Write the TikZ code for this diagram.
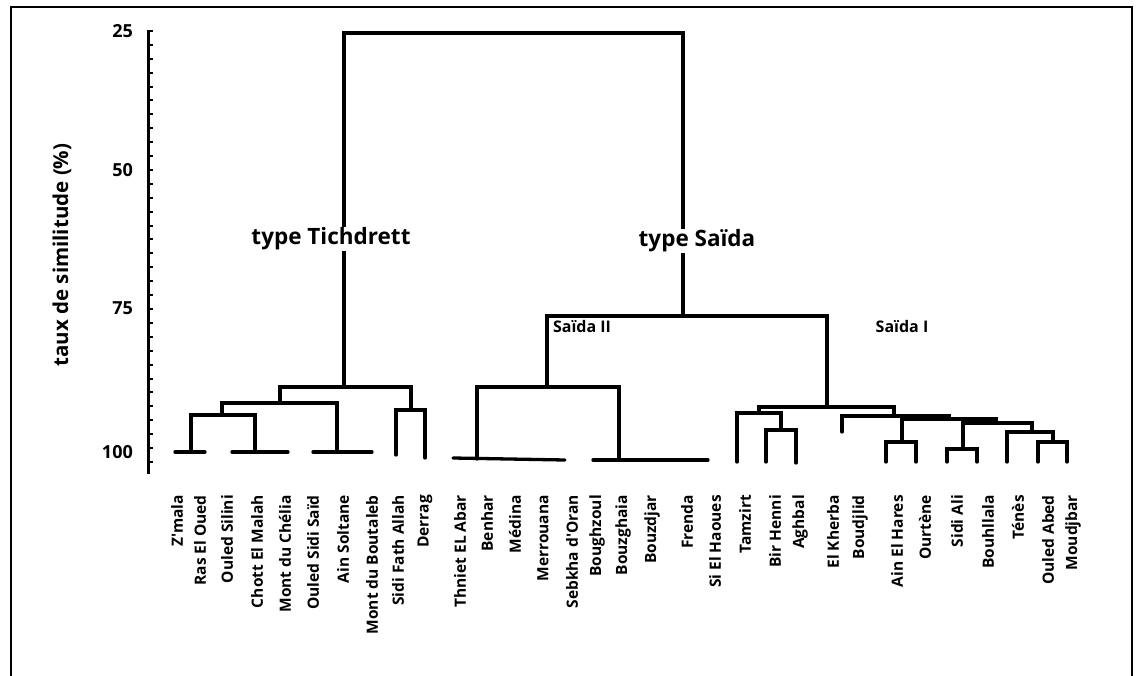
\documentclass[tikz,border=0pt]{standalone}
\usepackage{fontspec}
\setsansfont{Open Sans}
\newfontfamily\heavyfont{Open Sans}
\usepackage{tikz}
\usetikzlibrary{positioning}

\begin{document}
\begin{tikzpicture}[
  x=1pt, y=-1pt,
  font=\heavyfont\bfseries,
  leaf/.style={rotate=90, anchor=east, inner sep=0pt, font=\heavyfont\bfseries\fontsize{15.5}{15.5}\selectfont},
  grp/.style={fill=white, inner sep=1pt, font=\heavyfont\bfseries\fontsize{22.5}{22.5}\selectfont},
  sub/.style={inner sep=0pt, font=\heavyfont\bfseries\fontsize{16}{16}\selectfont},
  tick/.style={anchor=east, inner sep=0pt, font=\heavyfont\bfseries\fontsize{18}{18}\selectfont},
  br/.style={line width=3.3pt, line cap=round}
]
\useasboundingbox (0,0) rectangle (1139,676);

% Frame
\draw[line width=2.8pt] (11,676) -- (11,7) -- (1132,7) -- (1132,676);

% Axis
\draw[line width=3pt] (148,30) -- (148,474);
\foreach \v in {0,...,31}
  \draw[line width=2pt] (148,31+\v*13.9) -- ++(5,0);
\node[tick] (t25) at (133,31) {25};
\node[tick] (t50) at (133,170) {50};
\node[tick] (t75) at (133,308) {75};
\node[tick] (t100) at (133,452) {100};
\node[rotate=90, font=\heavyfont\bfseries\fontsize{20.5}{20.5}\selectfont] (ylab) at (62,255) {taux de similitude (\%)};

% Leaves
\foreach \x/\name [count=\i] in {177/Z'mala, 200/Ras El Oued, 227/Ouled Silini,
    257/Chott El Malah, 285/Mont du Chélia, 313/Ouled Sidi Saïd, 343/Ain Soltane,
    372/Mont du Boutaleb, 398/Sidi Fath Allah, 425/Derrag,
    460/Thniet EL Abar, 487/Benhar, 515/Médina, 543/Merrouana, 572/Sebkha d'Oran,
    597/Boughzoul, 623/Bouzghaia, 652/Bouzdjar, 687/Frenda, 715/Si El Haoues,
    745/Tamzirt, 775/Bir Henni, 800/Aghbal, 833/El Kherba, 860/Boudjlid,
    897/Ain El Hares, 925/Ourtène, 957/Sidi Ali, 988/Bouhllala, 1018/Ténès,
    1048/Ouled Abed, 1073/Moudjbar}
  \node[leaf] (l\i) at (\x,495) {\name};

% Root
\draw[br] (344,387) -- (344,33) -- (683,33) -- (683,316);

% type Tichdrett
\draw[br] (280,403) -- (280,387) -- (411,387) -- (411,410);
\draw[br] (222,415) -- (222,403) -- (337,403) -- (337,452);
\draw[br] (191,452) -- (191,415) -- (255,415) -- (255,452);
\draw[br] (175,452) -- (205,452);
\draw[br] (232,452) -- (288,452);
\draw[br] (313,452) -- (372,452);
\draw[br] (396,455) -- (396,410) -- (425,410) -- (425,458);

% type Saida
\draw[br] (547,387) -- (547,316) -- (827,316) -- (827,407);

% Saida II
\draw[br] (477,459) -- (477,387) -- (619,387) -- (619,460);
\draw[br] (453,458) -- (565,460);
\draw[br] (593,460) -- (708,460);

% Saida I
\draw[br] (759,413) -- (759,407) -- (894,407) -- (894,416);
\draw[br] (737,462) -- (737,413) -- (781,413) -- (781,430);
\draw[br] (766,462) -- (766,430) -- (796,430) -- (796,463);
\draw[br] (842,432) -- (842,416) -- (949,416) -- (949,419);
\draw[br] (902,442) -- (902,419) -- (996,419) -- (996,423);
\draw[br] (886,462) -- (886,442) -- (916,442) -- (916,462);
\draw[br] (963,449) -- (963,423) -- (1032,423) -- (1032,432);
\draw[br] (947,462) -- (947,449) -- (977,449) -- (977,462);
\draw[br] (1007,462) -- (1007,432) -- (1053,432) -- (1053,442);
\draw[br] (1038,462) -- (1038,442) -- (1067,442) -- (1067,462);

% Group labels
\node[grp] (tich) at (331,239) {type Tichdrett};
\node[grp] (saida) at (697,241) {type Saïda};
\node[sub] (saida2) at (582,326) {Saïda II};
\node[sub] (saida1) at (902,326) {Saïda I};
\end{tikzpicture}
\end{document}
